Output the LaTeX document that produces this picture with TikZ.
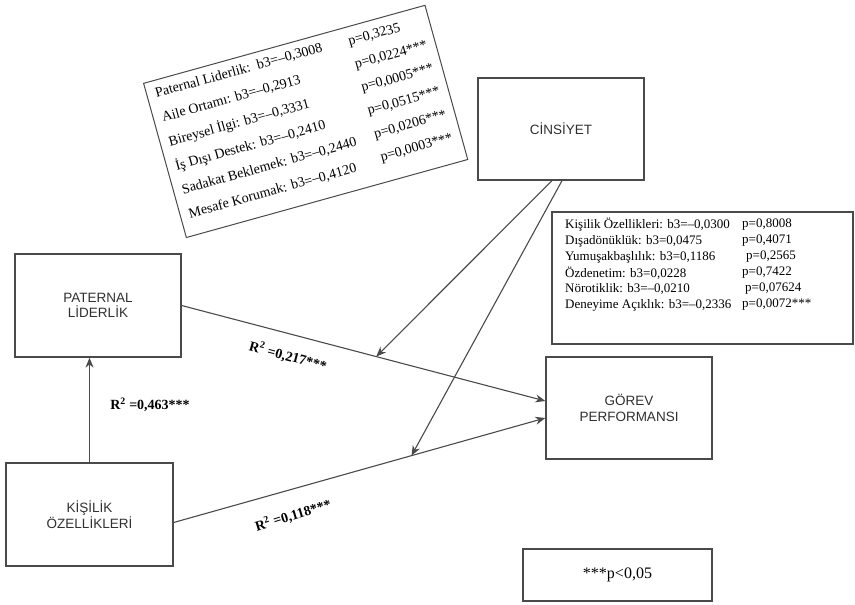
\documentclass[tikz,border=0pt]{standalone}
\usepackage{fontspec}
\setmainfont{Liberation Serif}
\setsansfont{Liberation Sans}
\usetikzlibrary{calc,arrows.meta}
\definecolor{edge}{HTML}{4A4A4A}
\definecolor{lab}{HTML}{303030}
\begin{document}
\begin{tikzpicture}[x=1pt,y=-1pt,
  box/.style={draw=edge,line width=1.3pt,fill=white,inner sep=0pt},
  concept/.style={box,font=\sffamily\fontsize{13.5}{15.5}\selectfont,text=lab,align=center},
  stat/.style={font=\fontsize{13}{16}\selectfont,inner sep=0pt,anchor=west},
  cardtxt/.style={font=\fontsize{14}{16}\selectfont,inner sep=0pt,anchor=west},
  rsq/.style={font=\bfseries\fontsize{14}{16}\selectfont,inner sep=0pt},
  link/.style={draw=edge,line width=1.1pt,-{Stealth[length=10pt,width=8pt]}}]
\useasboundingbox (0,0) rectangle (855,605);

% construct boxes
\node[concept,minimum width=166pt,minimum height=103pt] (pl) at (98,305.5) {PATERNAL\\L\.IDERL\.IK};
\node[concept,minimum width=167pt,minimum height=103pt] (ko) at (89.5,514.5) {K\.I\c{S}\.IL\.IK\\\"OZELL\.IKLER\.I};
\node[concept,minimum width=166pt,minimum height=102pt] (cin) at (561,129) {C\.INS\.IYET};
\node[concept,minimum width=166pt,minimum height=102pt] (gp) at (629,408) {G\"OREV\\PERFORMANSI};

% moderation results for personality traits
\node[box,minimum width=301pt,minimum height=132pt] (tbl) at (702.5,278) {};
\node[stat] (k1) at (565,225) {Kişilik Özellikleri: b3=--0,0300};
\node[stat] (k2) at (565,241) {Dışadönüklük: b3=0,0475};
\node[stat] (k3) at (565,257) {Yumuşakbaşlılık: b3=0,1186};
\node[stat] (k4) at (565,273) {Özdenetim: b3=0,0228};
\node[stat] (k5) at (565,289) {Nörotiklik: b3=--0,0210};
\node[stat] (k6) at (565,305) {Deneyime Açıklık: b3=--0,2336};
\node[stat] (q1) at (742,225) {p=0,8008};
\node[stat] (q2) at (742,241) {p=0,4071};
\node[stat] (q3) at (746,257) {p=0,2565};
\node[stat] (q4) at (742,273) {p=0,7422};
\node[stat] (q5) at (745,289) {p=0,07624};
\node[stat] (q6) at (742,305) {p=0,0072***};

% significance legend
\node[box,minimum width=189pt,minimum height=52pt,font=\fontsize{16}{18}\selectfont] (sig) at (617.5,575) {***p<0,05};

% moderation results for paternal leadership (tilted card)
\begin{scope}[shift={(143,83)},rotate=15.5,transform shape]
  \node[box,line width=1pt,anchor=north west,minimum width=292pt,minimum height=160pt] (card) at (0,0) {};
  \node[cardtxt] (a1) at (9,14) {Paternal Liderlik:\ \ b3=--0,3008};
  \node[cardtxt] (a2) at (9,39) {Aile Ortamı: b3=--0,2913};
  \node[cardtxt] (a3) at (9,64) {Bireysel İlgi: b3=--0,3331};
  \node[cardtxt] (a4) at (9,89) {İş Dışı Destek: b3=--0,2410};
  \node[cardtxt] (a5) at (9,114) {Sadakat Beklemek: b3=--0,2440};
  \node[cardtxt] (a6) at (9,139) {Mesafe Korumak: b3=--0,4120};
  \node[cardtxt] (b1) at (209,16) {p=0,3235};
  \node[cardtxt] (b2) at (209,40) {p=0,0224***};
  \node[cardtxt] (b3) at (209,64) {p=0,0005***};
  \node[cardtxt] (b4) at (209,88) {p=0,0515***};
  \node[cardtxt] (b5) at (209,112) {p=0,0206***};
  \node[cardtxt] (b6) at (209,136) {p=0,0003***};
\end{scope}

% paths
\draw[link] (ko.north) -- (ko.north |- pl.south);
\draw[link] (pl.east) -- ($(gp.west)+(0,-7)$) coordinate[pos=0.535] (m1);
\draw[link] ($(ko.east)+(0,8)$) -- ($(gp.west)+(0,10)$) coordinate[pos=0.64] (m2);
\draw[link] ($(cin.south)+(-9,0)$) -- (m1);
\draw[link] ($(cin.south)+(1,0)$) -- (m2);

% explained variance
\node[rsq] (r1) at (150,405) {R\textsuperscript{2} =0,463***};
\node[rsq,rotate=-15] (r2) at (288,356) {R\textsuperscript{2} =0,217***};
\node[rsq,rotate=17] (r3) at (293,515) {R\textsuperscript{2} =0,118***};
\end{tikzpicture}
\end{document}
